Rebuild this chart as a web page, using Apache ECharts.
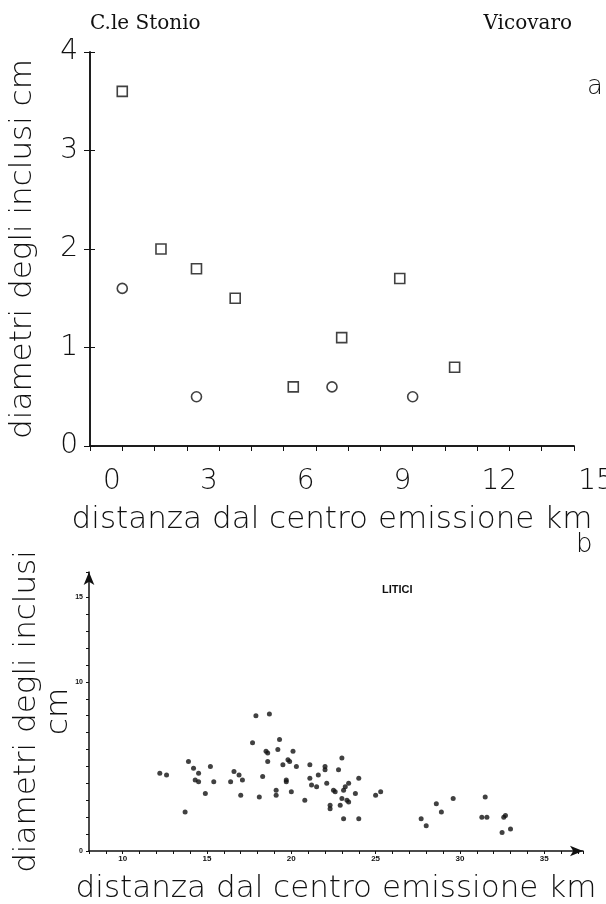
<!DOCTYPE html>
<html>
<head>
<meta charset="utf-8">
<script src="https://cdn.jsdelivr.net/npm/echarts@6/dist/echarts.min.js"></script>
<style>
  html, body { margin: 0; padding: 0; background: #fff; }
  #main { width: 606px; height: 904px; }
</style>
</head>
<body>
<div id="main"></div>
<script>
// panel a: diameters of inclusions vs distance (km)
var squareDist = [0.3, 1.5, 2.6, 3.8, 5.6, 7.1, 8.9, 10.6];
var squareDiam = [3.6, 2.0, 1.8, 1.5, 0.6, 1.1, 1.7, 0.8];
var circleDist = [0.3, 2.6, 6.8, 9.3];
var circleDiam = [1.6, 0.5, 0.6, 0.5];
var topXLabels = [0, 3, 6, 9, 12, 15];
var topYLabels = [0, 1, 2, 3, 4];

// panel b: LITICI
var liticiDist = [12.2, 12.6, 13.7, 13.9, 14.2, 14.5, 14.3, 14.5, 14.9, 15.2,
  15.4, 16.4, 16.6, 16.9, 17.1, 17.0, 17.7, 17.9, 18.7, 18.3,
  18.1, 18.5, 18.6, 18.6, 19.3, 19.2, 19.5, 19.1, 19.1, 19.7,
  19.7, 19.8, 19.9, 20.1, 20.3, 20.0, 20.8, 21.1, 21.1, 21.2,
  21.5, 21.6, 22.0, 22.0, 22.1, 22.5, 22.6, 22.3, 22.3, 22.8,
  23.0, 23.1, 23.2, 23.0, 22.9, 23.4, 23.3, 23.4, 23.1, 23.8,
  24.0, 24.0, 25.0, 25.3, 27.7, 28.0, 28.6, 28.9, 29.6, 31.3,
  31.6, 31.5, 32.6, 32.7, 32.5, 33.0];
var liticiDiam = [4.6, 4.5, 2.3, 5.3, 4.9, 4.6, 4.2, 4.1, 3.4, 5.0,
  4.1, 4.1, 4.7, 4.5, 4.2, 3.3, 6.4, 8.0, 8.1, 4.4,
  3.2, 5.9, 5.8, 5.3, 6.6, 6.0, 5.1, 3.6, 3.3, 4.1,
  4.2, 5.4, 5.3, 5.9, 5.0, 3.5, 3.0, 5.1, 4.3, 3.9,
  3.8, 4.5, 4.8, 5.0, 4.0, 3.6, 3.5, 2.7, 2.5, 4.8,
  5.5, 3.6, 3.8, 3.1, 2.7, 4.0, 3.0, 2.9, 1.9, 3.4,
  4.3, 1.9, 3.3, 3.5, 1.9, 1.5, 2.8, 2.3, 3.1, 2.0,
  2.0, 3.2, 2.0, 2.1, 1.1, 1.3];
var bottomXLabels = [10, 15, 20, 25, 30, 35];
var bottomYLabels = [0, 10, 15];

// the printed km labels of panel a sit 0.7 km to the right of their ticks
var labelShift = 0.7;

var plotFont = 'DejaVu Sans';
var ink = '#111';
var titleStyle = { fontFamily: plotFont, fontWeight: 200, fontSize: 31, color: ink };

function pairs(xs, ys, shift) {
  return xs.map(function (x, i) { return [x + (shift || 0), ys[i]]; });
}

var chart = echarts.init(document.getElementById('main'));

var option = {
  backgroundColor: '#fff',
  animation: false,
  grid: [
    { left: 90, top: 52, width: 484, height: 394, outerBoundsMode: 'none', containLabel: false },
    { left: 89, top: 572, width: 494, height: 279, outerBoundsMode: 'none', containLabel: false }
  ],
  xAxis: [
    {
      gridIndex: 0, type: 'value', min: 0, max: 15, interval: 1,
      axisLine: { lineStyle: { color: ink, width: 1.5 } },
      axisTick: { length: 5, lineStyle: { color: ink } },
      splitLine: { show: false },
      axisLabel: {
        margin: 22, fontFamily: plotFont, fontWeight: 200, fontSize: 28, color: ink,
        padding: [0, 0, 0, 44],
        formatter: function (v) { return topXLabels.indexOf(v) >= 0 ? String(v) : ''; }
      },
      name: 'distanza dal centro emissione km', nameLocation: 'middle', nameGap: 58,
      nameTextStyle: titleStyle
    },
    {
      gridIndex: 0, type: 'value', min: 0, max: 15, interval: 1, position: 'top',
      axisLine: { lineStyle: { color: ink, width: 1.5 } },
      axisTick: { inside: true, length: 5, lineStyle: { color: ink } },
      axisLabel: { show: false }, splitLine: { show: false }
    },
    {
      gridIndex: 1, type: 'value', min: 8, max: 37.3, interval: 1,
      axisLine: { symbol: ['none', 'arrow'], symbolSize: [8, 13], lineStyle: { color: ink, width: 1.5 } },
      axisTick: { length: 3, lineStyle: { color: ink } },
      splitLine: { show: false },
      axisLabel: {
        margin: 4, fontFamily: 'Liberation Sans', fontWeight: 'bold', fontSize: 8, color: ink,
        formatter: function (v) { return bottomXLabels.indexOf(v) >= 0 ? String(v) : ''; }
      },
      name: 'distanza dal centro emissione km', nameLocation: 'middle', nameGap: 22,
      nameTextStyle: titleStyle
    }
  ],
  yAxis: [
    {
      gridIndex: 0, type: 'value', min: 0, max: 4, interval: 1,
      axisLine: { lineStyle: { color: ink, width: 1.5 } },
      axisTick: { length: 6, lineStyle: { color: ink } },
      splitLine: { show: false },
      axisLabel: {
        margin: 12, fontFamily: plotFont, fontWeight: 200, fontSize: 28, color: ink,
        formatter: function (v) { return topYLabels.indexOf(v) >= 0 ? String(v) : ''; }
      },
      name: 'diametri degli inclusi cm', nameLocation: 'middle', nameGap: 52,
      nameTextStyle: titleStyle
    },
    {
      gridIndex: 0, type: 'value', min: 0, max: 4, interval: 1, position: 'right',
      axisLine: { lineStyle: { color: ink, width: 1.5 } },
      axisTick: { length: 5, lineStyle: { color: ink } },
      axisLabel: { show: false }, splitLine: { show: false }
    },
    {
      gridIndex: 1, type: 'value', min: 0, max: 16.5, interval: 1,
      axisLine: { symbol: ['none', 'arrow'], symbolSize: [8, 13], lineStyle: { color: ink, width: 1.5 } },
      axisTick: { length: 3, lineStyle: { color: ink } },
      splitLine: { show: false },
      axisLabel: {
        margin: 6, fontFamily: 'Liberation Sans', fontWeight: 'bold', fontSize: 7, color: ink,
        formatter: function (v) { return bottomYLabels.indexOf(v) >= 0 ? String(v) : ''; }
      },
      name: 'diametri degli inclusi\ncm', nameLocation: 'middle', nameGap: 14,
      nameMoveOverlap: false,
      nameTextStyle: Object.assign({}, titleStyle, { lineHeight: 32 })
    }
  ],
  graphic: [
    { type: 'text', left: 90, top: 14, style: { text: 'C.le Stonio', font: '20px "DejaVu Serif"', fill: ink } },
    { type: 'text', right: 34, top: 14, style: { text: 'Vicovaro', font: '20px "DejaVu Serif"', fill: ink } },
    { type: 'text', left: 587, top: 74, style: { text: 'a', font: '200 26px "DejaVu Sans"', fill: ink } },
    { type: 'text', left: 576, top: 532, style: { text: 'b', font: '200 26px "DejaVu Sans"', fill: ink } },
    { type: 'text', left: 382, top: 584, style: { text: 'LITICI', font: 'bold 11px "Liberation Sans"', fill: ink } }
  ],
  series: [
    {
      type: 'scatter', xAxisIndex: 0, yAxisIndex: 0,
      data: pairs(squareDist, squareDiam, labelShift),
      symbol: 'rect', symbolSize: 10,
      itemStyle: { color: '#fff', borderColor: ink, borderWidth: 1.6 }
    },
    {
      type: 'scatter', xAxisIndex: 0, yAxisIndex: 0,
      data: pairs(circleDist, circleDiam, labelShift),
      symbol: 'circle', symbolSize: 10,
      itemStyle: { color: '#fff', borderColor: ink, borderWidth: 1.6 }
    },
    {
      type: 'scatter', xAxisIndex: 2, yAxisIndex: 2,
      data: pairs(liticiDist, liticiDiam),
      symbol: 'circle', symbolSize: 5,
      itemStyle: { color: ink }
    }
  ]
};

chart.setOption(option);
</script>
</body>
</html>
